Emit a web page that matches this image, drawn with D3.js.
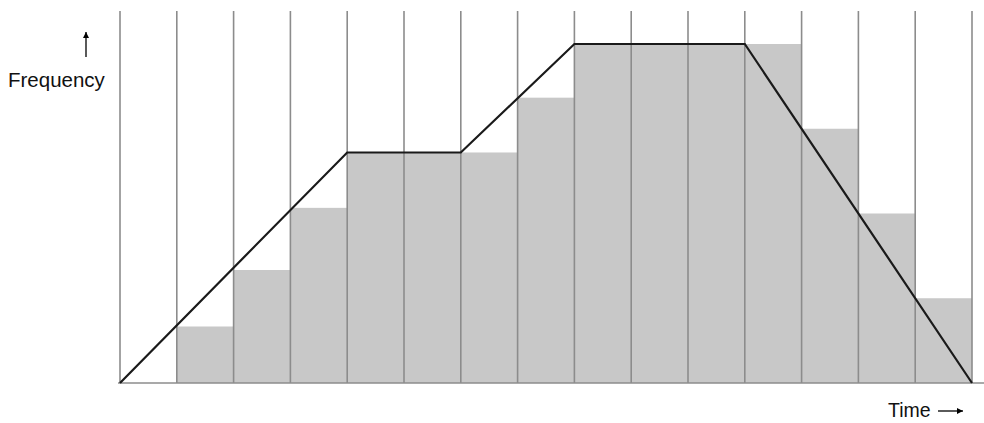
<!DOCTYPE html>
<html>
<head>
<meta charset="utf-8">
<script src="https://cdn.jsdelivr.net/npm/d3@7"></script>
<style>
  html, body { margin: 0; padding: 0; background: #fff; }
  svg { display: block; }
</style>
</head>
<body>
<svg id="chart" width="984" height="423"></svg>
<script>
// Time intervals (grid boundaries)
const gridTimes = d3.range(0, 16);
// Histogram bar heights, one per interval [i, i+1]
const barValues = [0, 1, 2, 3.1, 4.08, 4.08, 4.08, 5.05, 6, 6, 6, 6, 4.5, 3, 1.5];
// Continuous frequency profile (time, frequency)
const lineTimes = [0, 4, 6, 8, 11, 15];
const lineValues = [0, 4.08, 4.08, 6, 6, 0];
const yLabel = "Frequency";
const xLabel = "Time";

const svg = d3.select("#chart");
const x = d3.scaleLinear().domain([0, 15]).range([120, 972]);
const y = d3.scaleLinear().domain([0, 6]).range([383, 44]);

// bars
svg.append("g").selectAll("rect")
  .data(barValues.map((v, i) => ({ i, v })).filter(d => d.v > 0))
  .join("rect")
  .attr("x", d => x(d.i))
  .attr("y", d => y(d.v))
  .attr("width", d => x(d.i + 1) - x(d.i))
  .attr("height", d => y(0) - y(d.v))
  .attr("fill", "#c8c8c8");

// vertical grid lines
svg.append("g").selectAll("line")
  .data(gridTimes)
  .join("line")
  .attr("x1", d => x(d)).attr("x2", d => x(d))
  .attr("y1", 11).attr("y2", y(0))
  .attr("stroke", "#8c8c8c")
  .attr("stroke-width", 1.6);

// baseline
svg.append("line")
  .attr("x1", x(0) - 2).attr("x2", 984)
  .attr("y1", y(0)).attr("y2", y(0))
  .attr("stroke", "#8c8c8c")
  .attr("stroke-width", 1.6);

// profile line
const line = d3.line().x(d => x(d[0])).y(d => y(d[1]));
svg.append("path")
  .datum(lineTimes.map((t, i) => [t, lineValues[i]]))
  .attr("d", line)
  .attr("fill", "none")
  .attr("stroke", "#1a1a1a")
  .attr("stroke-width", 2.2)
  .attr("stroke-linejoin", "miter");

// arrow markers
const defs = svg.append("defs");
defs.append("marker")
  .attr("id", "ah")
  .attr("viewBox", "0 0 10 10")
  .attr("refX", 10).attr("refY", 5)
  .attr("markerWidth", 10).attr("markerHeight", 6)
  .attr("markerUnits", "userSpaceOnUse")
  .attr("orient", "auto")
  .append("path").attr("d", "M0,0 L10,5 L0,10 Z").attr("fill", "#000");

// y label and arrow
svg.append("text")
  .attr("x", 8).attr("y", 87)
  .attr("font-family", "'Liberation Sans', Arial, Helvetica, sans-serif")
  .attr("font-size", 20.5)
  .attr("fill", "#111")
  .text(yLabel);
svg.append("line")
  .attr("x1", 86).attr("x2", 86)
  .attr("y1", 57).attr("y2", 32)
  .attr("stroke", "#000").attr("stroke-width", 1.3)
  .attr("marker-end", "url(#ah)");

// x label and arrow
svg.append("text")
  .attr("x", 888).attr("y", 417)
  .attr("font-family", "'Liberation Sans', Arial, Helvetica, sans-serif")
  .attr("font-size", 19.5)
  .attr("fill", "#111")
  .text(xLabel);
svg.append("line")
  .attr("x1", 938).attr("x2", 963)
  .attr("y1", 411).attr("y2", 411)
  .attr("stroke", "#000").attr("stroke-width", 1.3)
  .attr("marker-end", "url(#ah)");
</script>
</body>
</html>
